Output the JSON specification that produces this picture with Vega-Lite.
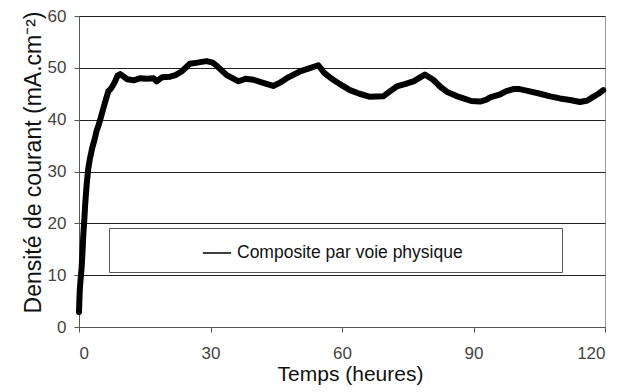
{
  "$schema": "https://vega.github.io/schema/vega-lite/v6.json",
  "width": 526,
  "height": 311,
  "autosize": {"type": "none"},
  "padding": {"left": 79, "top": 16, "right": 24, "bottom": 65},
  "background": "white",
  "config": {
    "font": "Liberation Sans",
    "view": {"stroke": "#999999", "strokeWidth": 1},
    "axis": {"labelFont": "Liberation Sans", "titleFont": "Liberation Sans", "titleFontWeight": "normal"}
  },
  "data": {
    "values": [
      {"t": 0.0, "v": 2.9, "s": "Composite par voie physique"},
      {"t": 0.1, "v": 5.5, "s": "Composite par voie physique"},
      {"t": 0.2, "v": 7.5, "s": "Composite par voie physique"},
      {"t": 0.4, "v": 9.5, "s": "Composite par voie physique"},
      {"t": 0.6, "v": 11.5, "s": "Composite par voie physique"},
      {"t": 0.8, "v": 14.5, "s": "Composite par voie physique"},
      {"t": 1.0, "v": 18, "s": "Composite par voie physique"},
      {"t": 1.2, "v": 20.5, "s": "Composite par voie physique"},
      {"t": 1.4, "v": 23.5, "s": "Composite par voie physique"},
      {"t": 1.75, "v": 27.5, "s": "Composite par voie physique"},
      {"t": 2.1, "v": 30.5, "s": "Composite par voie physique"},
      {"t": 2.5, "v": 32.5, "s": "Composite par voie physique"},
      {"t": 3.0, "v": 34.5, "s": "Composite par voie physique"},
      {"t": 3.5, "v": 36, "s": "Composite par voie physique"},
      {"t": 4.0, "v": 37.8, "s": "Composite par voie physique"},
      {"t": 4.5, "v": 39, "s": "Composite par voie physique"},
      {"t": 5.0, "v": 40.5, "s": "Composite par voie physique"},
      {"t": 5.5, "v": 42, "s": "Composite par voie physique"},
      {"t": 6.0, "v": 43.5, "s": "Composite par voie physique"},
      {"t": 6.7, "v": 45.5, "s": "Composite par voie physique"},
      {"t": 7.3, "v": 46, "s": "Composite par voie physique"},
      {"t": 7.8, "v": 46.7, "s": "Composite par voie physique"},
      {"t": 8.3, "v": 47.5, "s": "Composite par voie physique"},
      {"t": 8.8, "v": 48.5, "s": "Composite par voie physique"},
      {"t": 9.4, "v": 48.8, "s": "Composite par voie physique"},
      {"t": 10.2, "v": 48.3, "s": "Composite par voie physique"},
      {"t": 11.0, "v": 47.8, "s": "Composite par voie physique"},
      {"t": 12.5, "v": 47.6, "s": "Composite par voie physique"},
      {"t": 14.0, "v": 48.0, "s": "Composite par voie physique"},
      {"t": 15.5, "v": 47.9, "s": "Composite par voie physique"},
      {"t": 17.0, "v": 48.0, "s": "Composite par voie physique"},
      {"t": 17.7, "v": 47.4, "s": "Composite par voie physique"},
      {"t": 19.0, "v": 48.2, "s": "Composite par voie physique"},
      {"t": 20.8, "v": 48.3, "s": "Composite par voie physique"},
      {"t": 22.0, "v": 48.6, "s": "Composite par voie physique"},
      {"t": 23.4, "v": 49.3, "s": "Composite par voie physique"},
      {"t": 25.3, "v": 50.8, "s": "Composite par voie physique"},
      {"t": 27.0, "v": 51.0, "s": "Composite par voie physique"},
      {"t": 29.1, "v": 51.3, "s": "Composite par voie physique"},
      {"t": 30.5, "v": 51.0, "s": "Composite par voie physique"},
      {"t": 31.4, "v": 50.4, "s": "Composite par voie physique"},
      {"t": 33.7, "v": 48.6, "s": "Composite par voie physique"},
      {"t": 36.4, "v": 47.4, "s": "Composite par voie physique"},
      {"t": 38.0, "v": 47.9, "s": "Composite par voie physique"},
      {"t": 39.8, "v": 47.7, "s": "Composite par voie physique"},
      {"t": 42.0, "v": 47.1, "s": "Composite par voie physique"},
      {"t": 44.3, "v": 46.5, "s": "Composite par voie physique"},
      {"t": 46.0, "v": 47.2, "s": "Composite par voie physique"},
      {"t": 47.4, "v": 48.0, "s": "Composite par voie physique"},
      {"t": 50.4, "v": 49.3, "s": "Composite par voie physique"},
      {"t": 52.5, "v": 49.9, "s": "Composite par voie physique"},
      {"t": 54.6, "v": 50.5, "s": "Composite par voie physique"},
      {"t": 56.0, "v": 49.0, "s": "Composite par voie physique"},
      {"t": 58.0, "v": 47.7, "s": "Composite par voie physique"},
      {"t": 60.0, "v": 46.6, "s": "Composite par voie physique"},
      {"t": 61.8, "v": 45.7, "s": "Composite par voie physique"},
      {"t": 64.0, "v": 45.0, "s": "Composite par voie physique"},
      {"t": 66.4, "v": 44.4, "s": "Composite par voie physique"},
      {"t": 69.4, "v": 44.5, "s": "Composite par voie physique"},
      {"t": 71.0, "v": 45.5, "s": "Composite par voie physique"},
      {"t": 72.5, "v": 46.4, "s": "Composite par voie physique"},
      {"t": 74.5, "v": 46.9, "s": "Composite par voie physique"},
      {"t": 76.3, "v": 47.4, "s": "Composite par voie physique"},
      {"t": 78.9, "v": 48.7, "s": "Composite par voie physique"},
      {"t": 80.8, "v": 47.7, "s": "Composite par voie physique"},
      {"t": 82.5, "v": 46.3, "s": "Composite par voie physique"},
      {"t": 83.9, "v": 45.4, "s": "Composite par voie physique"},
      {"t": 86.0, "v": 44.6, "s": "Composite par voie physique"},
      {"t": 87.7, "v": 44.1, "s": "Composite par voie physique"},
      {"t": 89.5, "v": 43.6, "s": "Composite par voie physique"},
      {"t": 91.5, "v": 43.5, "s": "Composite par voie physique"},
      {"t": 92.8, "v": 43.8, "s": "Composite par voie physique"},
      {"t": 93.8, "v": 44.3, "s": "Composite par voie physique"},
      {"t": 96.1, "v": 44.9, "s": "Composite par voie physique"},
      {"t": 97.5, "v": 45.5, "s": "Composite par voie physique"},
      {"t": 99.1, "v": 45.9, "s": "Composite par voie physique"},
      {"t": 100.5, "v": 45.9, "s": "Composite par voie physique"},
      {"t": 102.1, "v": 45.6, "s": "Composite par voie physique"},
      {"t": 105.2, "v": 45.0, "s": "Composite par voie physique"},
      {"t": 107.5, "v": 44.5, "s": "Composite par voie physique"},
      {"t": 109.7, "v": 44.1, "s": "Composite par voie physique"},
      {"t": 112.0, "v": 43.8, "s": "Composite par voie physique"},
      {"t": 114.3, "v": 43.4, "s": "Composite par voie physique"},
      {"t": 116.0, "v": 43.7, "s": "Composite par voie physique"},
      {"t": 117.3, "v": 44.4, "s": "Composite par voie physique"},
      {"t": 118.5, "v": 45.0, "s": "Composite par voie physique"},
      {"t": 119.6, "v": 45.7, "s": "Composite par voie physique"}
    ]
  },
  "mark": {"type": "line", "strokeWidth": 6, "strokeCap": "round", "strokeJoin": "round"},
  "encoding": {
    "x": {
      "field": "t", "type": "quantitative",
      "scale": {"domain": [0, 120], "nice": false},
      "axis": {
        "values": [0, 30, 60, 90, 120],
        "title": "Temps (heures)",
        "titleFontSize": 21, "titleColor": "#111111",
        "titleX": 271, "titleY": 53, "titleBaseline": "alphabetic", "titleAlign": "center",
        "labelFontSize": 17, "labelColor": "#444444", "labelPadding": 13,
        "tickSize": 5, "tickColor": "#555555", "domainColor": "#555555",
        "grid": false
      }
    },
    "y": {
      "field": "v", "type": "quantitative",
      "scale": {"domain": [0, 60], "nice": false},
      "axis": {
        "values": [0, 10, 20, 30, 40, 50, 60],
        "title": "Densité de courant (mA.cm⁻²)",
        "titleFontSize": 23, "titleColor": "#111111",
        "titleX": -39, "titleY": 146, "titleBaseline": "alphabetic", "titleAlign": "center", "titleAngle": -90,
        "labelFontSize": 17, "labelColor": "#444444", "labelPadding": 8,
        "tickSize": 5, "tickColor": "#555555", "domainColor": "#555555",
        "grid": true, "gridColor": "#222222", "gridWidth": 1, "gridOpacity": 1
      }
    },
    "color": {
      "field": "s", "type": "nominal",
      "scale": {"range": ["black"]},
      "legend": {
        "title": "\u00a0",
        "titleOrient": "right",
        "titlePadding": 89,
        "titleFontSize": 17,
        "orient": "none",
        "legendX": 30,
        "legendY": 212,
        "padding": 10,
        "strokeColor": "#555555",
        "fillColor": "white",
        "symbolType": "stroke",
        "symbolSize": 800,
        "symbolStrokeWidth": 1.5,
        "symbolStrokeColor": "black",
        "symbolOffset": 83,
        "labelOffset": 5,
        "labelFontSize": 17.5,
        "labelColor": "#111111",
        "labelLimit": 600
      }
    }
  }
}
